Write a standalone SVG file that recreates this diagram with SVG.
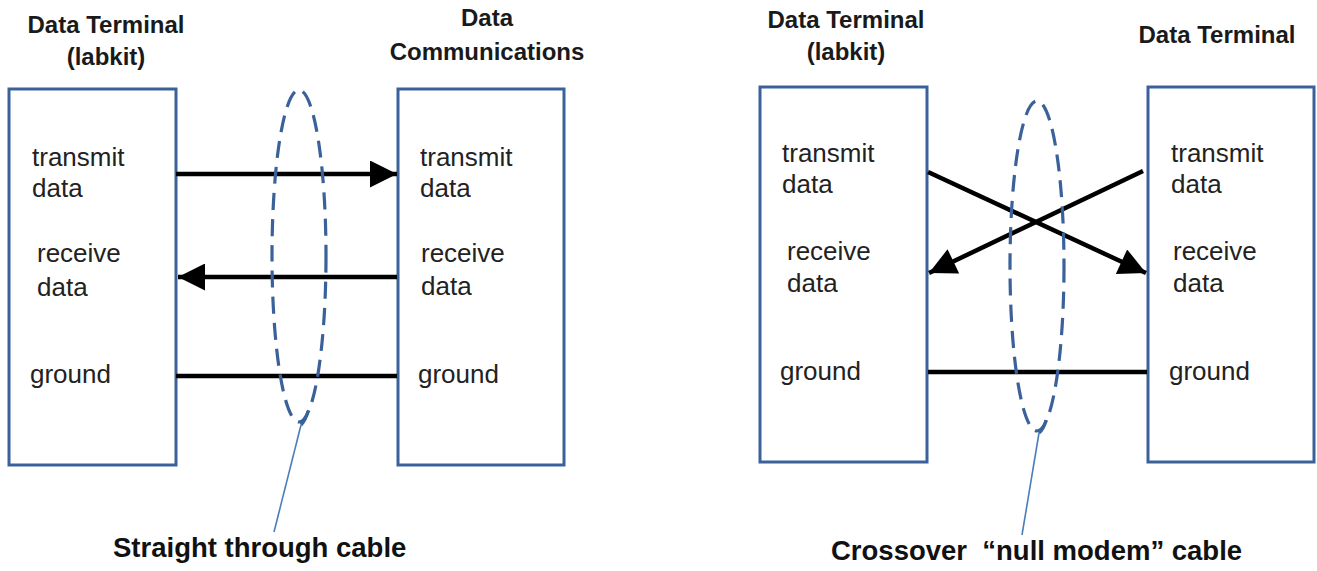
<svg xmlns="http://www.w3.org/2000/svg" width="1317" height="571" viewBox="0 0 1317 571">
<defs>
<style>
.box{fill:#fff;stroke:#3A6199;stroke-width:3}
.hdr{font-family:"Liberation Sans",Arial,sans-serif;font-weight:bold;font-size:24px;fill:#1a1a1a;text-anchor:middle}
.lbl{font-family:"Liberation Sans",Arial,sans-serif;font-size:26px;fill:#222}
.cap{font-family:"Liberation Sans",Arial,sans-serif;font-weight:bold;font-size:27.5px;fill:#111;white-space:pre}
.wire{stroke:#000;stroke-width:4.5;fill:none}
.cable{fill:none;stroke:#3A6199;stroke-width:3.2;stroke-dasharray:17 9}
.hook{fill:none;stroke:#3A6199;stroke-width:3.2}
.callout{stroke:#4A7EBB;stroke-width:1.6;fill:none}
</style>
<marker id="ah" viewBox="0 0 10 10" refX="10" refY="5" markerWidth="6.6" markerHeight="6" markerUnits="strokeWidth" orient="auto">
<path d="M0,0 L10,5 L0,10 Z" fill="#000"/>
</marker>
</defs>
<rect width="1317" height="571" fill="#fff"/>

<g id="left-terminal">
<text class="hdr" x="106" y="33">Data Terminal</text>
<text class="hdr" x="106" y="65">(labkit)</text>
<rect class="box" x="9" y="89" width="167" height="376"/>
<text class="lbl" x="32" y="166">transmit</text>
<text class="lbl" x="32" y="197">data</text>
<text class="lbl" x="37" y="262">receive</text>
<text class="lbl" x="37" y="296">data</text>
<text class="lbl" x="30" y="383">ground</text>
</g>

<g id="left-dce">
<text class="hdr" x="487" y="26">Data</text>
<text class="hdr" x="487" y="60">Communications</text>
<rect class="box" x="398" y="89" width="166" height="376"/>
<text class="lbl" x="420" y="166">transmit</text>
<text class="lbl" x="420" y="197">data</text>
<text class="lbl" x="421" y="262">receive</text>
<text class="lbl" x="421" y="295">data</text>
<text class="lbl" x="418" y="383">ground</text>
</g>

<g id="right-terminal">
<text class="hdr" x="846" y="28">Data Terminal</text>
<text class="hdr" x="846" y="60">(labkit)</text>
<rect class="box" x="760" y="87" width="167" height="375"/>
<text class="lbl" x="782" y="162">transmit</text>
<text class="lbl" x="782" y="193">data</text>
<text class="lbl" x="787" y="260">receive</text>
<text class="lbl" x="787" y="292">data</text>
<text class="lbl" x="780" y="380">ground</text>
</g>

<g id="right-terminal-2">
<text class="hdr" x="1217" y="43">Data Terminal</text>
<rect class="box" x="1148" y="87" width="166" height="375"/>
<text class="lbl" x="1171" y="162">transmit</text>
<text class="lbl" x="1171" y="193">data</text>
<text class="lbl" x="1173" y="260">receive</text>
<text class="lbl" x="1173" y="292">data</text>
<text class="lbl" x="1169" y="380">ground</text>
</g>

<g id="connectors">
<line class="wire" x1="176" y1="174" x2="397" y2="174" marker-end="url(#ah)"/>
<line class="wire" x1="397" y1="277" x2="178" y2="277" marker-end="url(#ah)"/>
<line class="wire" x1="176" y1="376" x2="397" y2="376"/>
<line class="wire" x1="928" y1="172" x2="1146" y2="273" marker-end="url(#ah)"/>
<line class="wire" x1="1143" y1="171" x2="929" y2="273" marker-end="url(#ah)"/>
<line class="wire" x1="928" y1="372" x2="1147" y2="372"/>
</g>

<g id="straight-cable">
<ellipse class="cable" cx="299" cy="256" rx="27" ry="166"/>
<path class="hook" d="M308,411 Q306,420 301,425"/>
<path class="callout" d="M301,425 L274,532"/>
<text class="cap" x="113" y="557">Straight through cable</text>
</g>

<g id="crossover-cable">
<ellipse class="cable" cx="1037" cy="266" rx="27" ry="165"/>
<path class="hook" d="M1046,420 Q1044,429 1039,433"/>
<path class="callout" d="M1039,433 L1022,535"/>
<text class="cap" x="831" y="560">Crossover  “null modem” cable</text>
</g>
</svg>
